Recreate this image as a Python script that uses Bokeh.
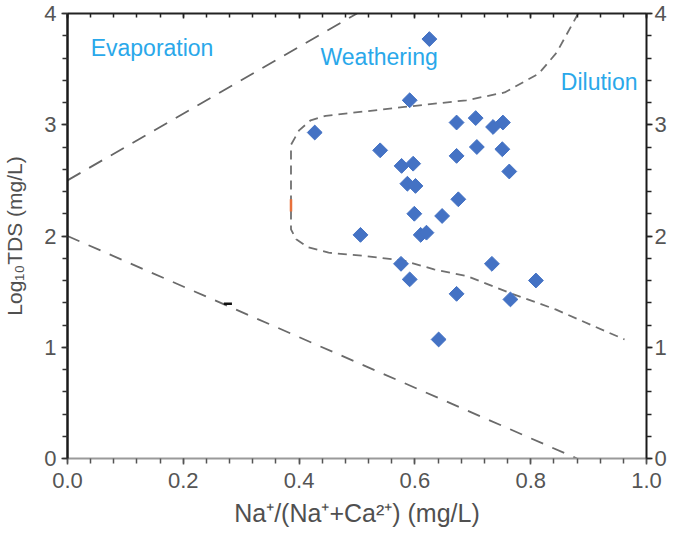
from bokeh.plotting import figure
from bokeh.models import LinearAxis, SingleIntervalTicker, Range1d, NumeralTickFormatter, CustomJSTickFormatter
from bokeh.embed import file_html
from bokeh.resources import INLINE
from bokeh.core.properties import value

# ---- data ----
na_ratio = [0.427, 0.625, 0.591, 0.672, 0.705, 0.735, 0.752, 0.540, 0.707, 0.751,
            0.672, 0.577, 0.597, 0.763, 0.587, 0.601, 0.675, 0.599, 0.647, 0.610,
            0.620, 0.506, 0.576, 0.733, 0.591, 0.809, 0.672, 0.765, 0.641]
log_tds = [2.93, 3.77, 3.22, 3.02, 3.06, 2.98, 3.02, 2.77, 2.80, 2.78,
           2.72, 2.63, 2.65, 2.58, 2.47, 2.45, 2.33, 2.20, 2.18, 2.01,
           2.03, 2.01, 1.75, 1.75, 1.61, 1.60, 1.48, 1.43, 1.07]

upper_line_x = [0.0, 0.50]
upper_line_y = [2.5, 4.0]
lower_line_x = [0.0, 0.88]
lower_line_y = [2.0, 0.0]

boundary_x = [0.882, 0.845, 0.814, 0.755, 0.689, 0.582, 0.446, 0.420, 0.400, 0.386,
              0.386, 0.395, 0.415, 0.451, 0.514, 0.580, 0.633, 0.690, 0.763, 0.843, 0.962]
boundary_y = [4.00, 3.65, 3.46, 3.29, 3.22, 3.16, 3.08, 3.04, 2.95, 2.82,
              2.06, 1.97, 1.90, 1.85, 1.82, 1.78, 1.70, 1.64, 1.49, 1.34, 1.07]

orange_mark_x = [0.386, 0.386]
orange_mark_y = [2.22, 2.33]
black_mark_x = [0.270, 0.284]
black_mark_y = [1.39, 1.39]

region_labels = ["Evaporation", "Weathering", "Dilution"]
region_label_x = [0.040, 0.437, 0.852]
region_label_y = [3.686, 3.61, 3.387]

x_title = "Na\u207a/(Na\u207a+Ca\u00b2\u207a) (mg/L)"
y_title = "Log\u2081\u2080TDS (mg/L)"

FONT = "Liberation Sans"

p = figure(width=669, height=535, output_backend="svg", toolbar_location=None,
           x_range=Range1d(0, 1), y_range=Range1d(0, 4),
           min_border_left=67, min_border_right=22, min_border_top=13, min_border_bottom=77,
           x_axis_type=None, y_axis_type=None)
p.grid.visible = False
p.outline_line_color = None
p.background_fill_color = "white"
p.border_fill_color = "white"

xt = SingleIntervalTicker(interval=0.2, num_minor_ticks=5)
yt = SingleIntervalTicker(interval=1, num_minor_ticks=5)

def style(ax, line_color, line_width, tick_color, tin, tout, mtin, mtout, standoff):
    ax.axis_line_color = line_color
    ax.axis_line_width = line_width
    ax.major_tick_line_color = tick_color
    ax.minor_tick_line_color = tick_color
    ax.major_tick_line_width = 1.5
    ax.minor_tick_line_width = 1.5
    ax.major_tick_in = tin
    ax.major_tick_out = tout
    ax.minor_tick_in = mtin
    ax.minor_tick_out = mtout
    ax.major_label_standoff = standoff
    ax.major_label_text_font = FONT
    ax.major_label_text_color = "#555555"
    ax.major_label_text_font_size = "22px"
    ax.axis_label_text_font = FONT
    ax.axis_label_text_font_style = "normal"
    ax.axis_label_text_color = "#505050"

bottom = LinearAxis(ticker=xt, formatter=NumeralTickFormatter(format="0.0"), axis_label=x_title)
style(bottom, "#9a9a9a", 2, "#555555", 0, 6, 0, 5, 8)
bottom.axis_label_text_font_size = "25px"
bottom.axis_label_standoff = 8
p.add_layout(bottom, "below")

top = LinearAxis(ticker=xt, formatter=CustomJSTickFormatter(code="return ''"))
style(top, "#222222", 2, "#222222", 5, 0, 4, 0, 0)
p.add_layout(top, "above")

left = LinearAxis(ticker=yt, formatter=NumeralTickFormatter(format="0"), axis_label=y_title)
style(left, "#1a1a1a", 2.5, "#333333", 0, 6, 0, 5, 5)
left.axis_label_text_font_size = "21px"
left.axis_label_standoff = 15
p.add_layout(left, "left")

right = LinearAxis(ticker=yt, formatter=NumeralTickFormatter(format="0"))
style(right, "#1a1a1a", 2, "#222222", 0, 6, 0, 5, 2)
p.add_layout(right, "right")

# boundary lines
p.line(upper_line_x, upper_line_y, line_color="#666666", line_width=1.8, line_dash="15 10")
p.line(lower_line_x, lower_line_y, line_color="#6a6a6a", line_width=1.8, line_dash="13 10")
p.line(boundary_x, boundary_y, line_color="#707070", line_width=1.8, line_dash="9 6")
p.line(orange_mark_x, orange_mark_y, line_color="#e8703a", line_width=2.5)
p.line(black_mark_x, black_mark_y, line_color="#111111", line_width=2.5)

# samples
p.scatter(na_ratio, log_tds, marker="square", angle=0.785398, size=10.5,
          fill_color="#4472C4", line_color="#4472C4", line_width=1)

# region labels
p.text(x=region_label_x, y=region_label_y, text=region_labels,
       text_font=value(FONT), text_font_size="23px", text_color="#2aa8ea",
       text_align="left", text_baseline="alphabetic")

open("out.html", "w").write(file_html(p, INLINE))
